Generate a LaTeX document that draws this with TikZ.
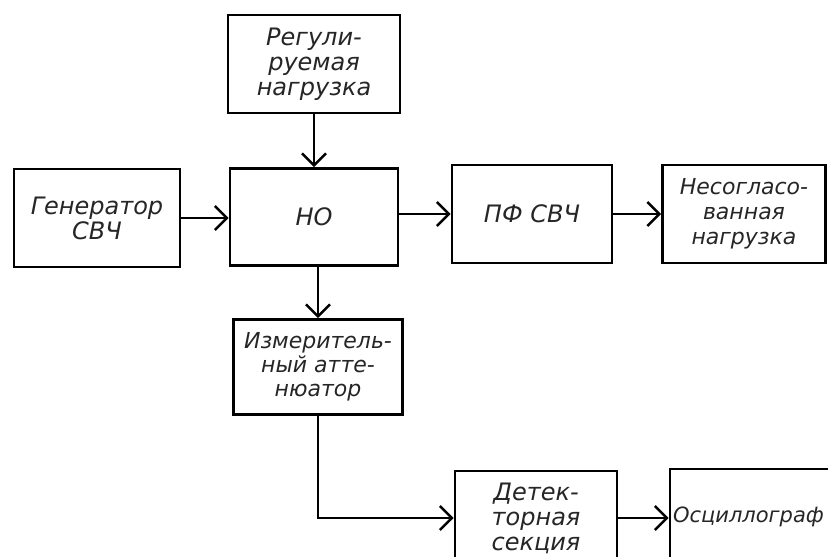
\documentclass[tikz,border=0pt]{standalone}
\usepackage{fontspec}
\setmainfont{DejaVu Sans}
\usepackage{tikz}
\usetikzlibrary{
  arrows.meta,
  positioning,
}

\begin{document}
\begin{tikzpicture}[
  x=1pt, y=-1pt,
  box/.style={
    draw=black, line width=2.6pt, fill=white,
    inner sep=0pt, align=center, text=black!85,
    font=\fontsize{24}{25}\selectfont\itshape,
  },
  arrow/.style={
    -{Straight Barb[length=12pt, width=24pt]}, line width=2.6pt, color=black,
  },
]
  \useasboundingbox (0,0) rectangle (828,557);

  % Upper row
  \node[box, minimum width=172pt, minimum height=98pt] (reg)
    at (314,64) {Регули-\\руемая\\нагрузка};
  \node[box, minimum width=166pt, minimum height=98pt] (gen)
    at (97,218) {Генератор\\СВЧ};
  \node[box, minimum width=168pt, minimum height=97pt] (ho)
    at (314,217) {НО};
  \node[box, minimum width=160pt, minimum height=98pt] (pf)
    at (532,214) {ПФ СВЧ};
  \node[box, minimum width=163pt, minimum height=98pt,
    font=\fontsize{22}{25}\selectfont\itshape] (nes)
    at (744,214) {Несогласо-\\ванная\\нагрузка};

  % Lower part
  \node[box, minimum width=169pt, minimum height=95pt,
    font=\fontsize{22}{24}\selectfont\itshape] (izm)
    at (318,367) {Измеритель-\\ный атте-\\нюатор};
  \node[box, minimum width=162pt, minimum height=94pt] (det)
    at (536,518) {Детек-\\торная\\секция};
  \node[box, minimum width=172pt, minimum height=96pt, align=left,
    text width=166pt, font=\fontsize{21}{24}\selectfont\itshape] (osc)
    at (756,517) {Осциллограф};

  % Connections
  \draw[arrow] (reg.south) -- (ho.north);
  \draw[arrow] (gen.east) -- (gen.east -| ho.west);
  \draw[arrow] (pf.west -| ho.east) -- (pf.west);
  \draw[arrow] (pf.east) -- (pf.east -| nes.west);
  \draw[arrow] (ho.south -| izm.north) -- (izm.north);
  \draw[arrow] (izm.south) |- (det.west);
  \draw[arrow] (det.east) -- (det.east -| osc.west);
\end{tikzpicture}
\end{document}
